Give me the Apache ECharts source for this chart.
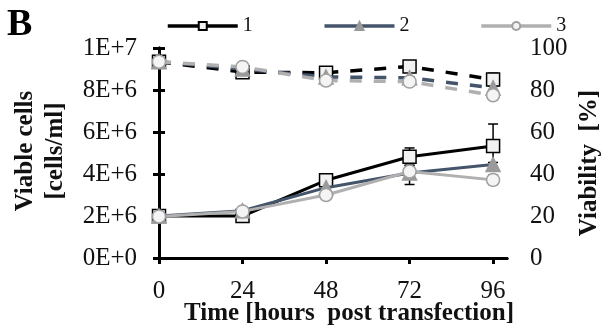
<!DOCTYPE html>
<html><head><meta charset="utf-8">
<script src="https://cdn.jsdelivr.net/npm/echarts@6/dist/echarts.min.js"></script>
<style>html,body{margin:0;padding:0;background:#fff}#c{width:603px;height:334px}</style>
</head><body><div id="c"></div>
<script>
// Time points (hours post transfection) and tick labels
const hours = [0, 24, 48, 72, 96];
const cellTickLabels = ['0E+0', '2E+6', '4E+6', '6E+6', '8E+6', '1E+7'];
const viabilityTicks = [0, 20, 40, 60, 80, 100];
const seriesNames = ['1', '2', '3'];

// Viable cell density (cells/ml) and standard deviations
const cells1 = [2.0e6, 2.0e6, 3.7e6, 4.82e6, 5.33e6];
const cells2 = [2.0e6, 2.25e6, 3.35e6, 4.05e6, 4.45e6];
const cells3 = [1.98e6, 2.22e6, 3.0e6, 4.12e6, 3.72e6];
const cellsErr1 = [0.05e6, 0.1e6, 0.1e6, 0.42e6, 1.05e6];
const cellsErr2 = [0.05e6, 0.1e6, 0.12e6, 0.55e6, 0.1e6];
const cellsErr3 = [0.05e6, 0.15e6, 0.1e6, 0.3e6, 0.22e6];

// Viability (%) and standard deviations
const viab1 = [93.5, 88.5, 88.2, 91.2, 85.0];
const viab2 = [93.5, 90.0, 86.2, 85.8, 81.0];
const viab3 = [93.5, 91.0, 84.5, 84.0, 77.5];
const viabErr1 = [0.5, 0.5, 1.0, 0.5, 3.0];
const viabErr2 = [0.5, 0.5, 0.5, 0.5, 1.0];
const viabErr3 = [0.5, 0.5, 1.0, 0.5, 1.0];

const colors = ['#000000', '#44546a', '#b0b0b0'];
const symbols = ['rect', 'triangle', 'circle'];
const symbolFill = ['#f2f2f2', '#9a9a9a', '#f4f4f4'];
const symbolBorder = ['#000000', '#9a9a9a', '#a0a0a0'];
const symbolSizes = [13, 14, 13];

const serif = '"Liberation Serif", "Times New Roman", serif';

function pairs(vals) { return hours.map((h, i) => [h, vals[i]]); }

function errorBars(vals, err, yAxisIndex) {
  return {
    type: 'custom',
    yAxisIndex: yAxisIndex,
    silent: true,
    z: 1,
    data: hours.map((h, i) => [h, vals[i] - err[i], vals[i] + err[i]]),
    encode: { x: 0, y: [1, 2] },
    renderItem(params, api) {
      const lo = api.coord([api.value(0), api.value(1)]);
      const hi = api.coord([api.value(0), api.value(2)]);
      const hw = 5;
      const st = { stroke: '#000', lineWidth: 1.5 };
      return {
        type: 'group',
        children: [
          { type: 'line', shape: { x1: hi[0], y1: hi[1], x2: lo[0], y2: lo[1] }, style: st },
          { type: 'line', shape: { x1: hi[0] - hw, y1: hi[1], x2: hi[0] + hw, y2: hi[1] }, style: st },
          { type: 'line', shape: { x1: lo[0] - hw, y1: lo[1], x2: lo[0] + hw, y2: lo[1] }, style: st }
        ]
      };
    }
  };
}

function lineSeries(name, vals, k, yAxisIndex, dashed) {
  return {
    type: 'line',
    name: name,
    yAxisIndex: yAxisIndex,
    data: pairs(vals),
    symbol: symbols[k],
    symbolSize: symbolSizes[k],
    z: 3 + k,
    lineStyle: {
      color: colors[k],
      width: dashed ? 3.5 : 3,
      type: dashed ? [12, 12] : 'solid'
    },
    itemStyle: { color: symbolFill[k], borderColor: symbolBorder[k], borderWidth: 1.5 },
    emphasis: { disabled: true },
    animation: false
  };
}

const cellSets = [cells1, cells2, cells3];
const cellErrs = [cellsErr1, cellsErr2, cellsErr3];
const viabSets = [viab1, viab2, viab3];
const viabErrs = [viabErr1, viabErr2, viabErr3];

const series = [];
for (let k = 0; k < 3; k++) series.push(errorBars(cellSets[k], cellErrs[k], 0));
for (let k = 0; k < 3; k++) series.push(errorBars(viabSets[k], viabErrs[k], 1));
for (let k = 0; k < 3; k++) series.push(lineSeries(seriesNames[k], cellSets[k], k, 0, false));
for (let k = 0; k < 3; k++) series.push(lineSeries('viability ' + seriesNames[k], viabSets[k], k, 1, true));

const axisLine = { show: true, lineStyle: { color: '#000', width: 3 } };
const axisTick = { show: true, length: 6, lineStyle: { color: '#000', width: 3 } };
const labelStyle = { color: '#111', fontFamily: serif, fontSize: 25 };
const titleStyle = { fill: '#111', font: 'bold 25px ' + serif, align: 'center', verticalAlign: 'middle' };

const chart = echarts.init(document.getElementById('c'), null, { renderer: 'canvas' });
chart.setOption({
  animation: false,
  backgroundColor: '#fff',
  grid: { left: 159, right: 96, top: 48, bottom: 76 },
  legend: {
    data: seriesNames,
    left: 161,
    top: 11,
    itemWidth: 70,
    itemHeight: 10,
    itemGap: 70,
    selectedMode: false,
    lineStyle: { width: 3.5 },
    textStyle: { color: '#111', fontFamily: serif, fontSize: 20 }
  },
  xAxis: [
    {
      type: 'value', min: 0, max: 100, interval: 24,
      axisLine: axisLine,
      axisTick: Object.assign({ customValues: hours }, axisTick),
      axisLabel: Object.assign({ margin: 21, customValues: hours }, labelStyle),
      splitLine: { show: false }
    },
    {
      type: 'value', min: 0, max: 100, position: 'top',
      axisLine: axisLine, axisTick: { show: false }, axisLabel: { show: false },
      splitLine: { show: false }
    }
  ],
  yAxis: [
    {
      type: 'value', min: 0, max: 1e7, interval: 2e6,
      axisLine: axisLine, axisTick: axisTick,
      axisLabel: Object.assign({ margin: 22, formatter: v => cellTickLabels[Math.round(v / 2e6)] }, labelStyle),
      splitLine: { show: false }
    },
    {
      type: 'value', min: 0, max: 100, interval: 20, position: 'right',
      axisLine: axisLine, axisTick: axisTick,
      axisLabel: Object.assign({ margin: 23, formatter: v => String(viabilityTicks[Math.round(v / 20)]) }, labelStyle),
      splitLine: { show: false }
    }
  ],
  graphic: [
    { type: 'text', left: 7, top: 6, style: { text: 'B', fill: '#000', font: 'bold 38px ' + serif } },
    { type: 'text', x: 26, y: 151, rotation: Math.PI / 2, style: Object.assign({ text: 'Viable cells' }, titleStyle) },
    { type: 'text', x: 56, y: 151, rotation: Math.PI / 2, style: Object.assign({ text: '[cells/ml]' }, titleStyle) },
    { type: 'text', x: 590, y: 163, rotation: Math.PI / 2, style: Object.assign({ text: 'Viability  [%]' }, titleStyle) },
    { type: 'text', x: 349, y: 314, style: Object.assign({ text: 'Time [hours  post transfection]' }, titleStyle) }
  ],
  series: series
});
</script>
</body></html>
